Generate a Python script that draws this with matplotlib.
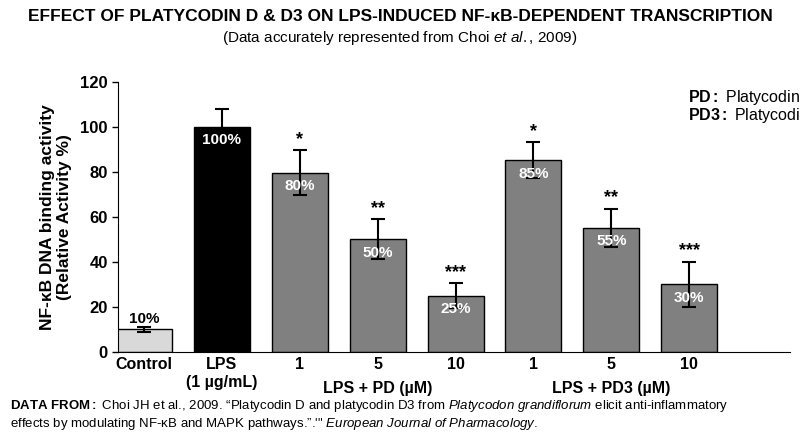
import matplotlib.pyplot as plt

plt.rcParams["font.family"] = ["Liberation Sans", "DejaVu Sans"]
plt.rcParams["mathtext.fontset"] = "custom"
plt.rcParams["mathtext.rm"] = "Liberation Sans"
plt.rcParams["mathtext.bf"] = "Liberation Sans:bold"
plt.rcParams["mathtext.it"] = "Liberation Sans:italic"

categories = ["Control", "LPS\n(1 µg/mL)", "1", "5", "10", "1", "5", "10"]
values = [10, 100, 79.5, 50, 25, 85, 55, 30]
errors = [1.2, 8, 10, 9, 5.5, 8, 8.5, 10]
value_labels = ["10%", "100%", "80%", "50%", "25%", "85%", "55%", "30%"]
stars = ["", "", "*", "**", "***", "*", "**", "***"]
colors = ["#d9d9d9", "#000000"] + ["#808080"] * 6

fig = plt.figure(figsize=(8, 4.36), dpi=100)
ax = fig.add_axes([0.148, 0.193, 0.84, 0.62])
x = list(range(len(values)))
ax.bar(x, values, width=0.72, color=colors, edgecolor="black", linewidth=1,
       yerr=errors, error_kw=dict(ecolor="black", elinewidth=1.5, capsize=5, capthick=1.5))

for i, (v, e, lab, s) in enumerate(zip(values, errors, value_labels, stars)):
    if i == 0:
        ax.text(i, v + 1.5, lab, ha="center", va="bottom", fontsize=11, fontweight="bold")
    else:
        ax.text(i, v - 6, lab, ha="center", va="center", fontsize=11,
                fontweight="bold", color="white")
    if s:
        ax.text(i, v + e + 1, s, ha="center", va="bottom", fontsize=13, fontweight="bold")

ax.set_xlim(-0.33, 8.3)
ax.set_ylim(0, 120)
ax.set_yticks(range(0, 121, 20))
ax.tick_params(axis="y", labelsize=12, width=1, length=4)
for t in ax.get_yticklabels():
    t.set_fontweight("bold")
ax.set_xticks(x)
ax.set_xticklabels(categories, fontsize=11.5, fontweight="bold")
ax.tick_params(axis="x", length=0, pad=4)
for side in ["top", "right"]:
    ax.spines[side].set_visible(False)
ax.set_ylabel("NF-κB DNA binding activity\n(Relative Activity %)", fontsize=12.5,
              fontweight="bold", labelpad=6)

ax.text(3, -13, "LPS + PD (µM)", ha="center", va="top", fontsize=11.5, fontweight="bold")
ax.text(6, -13, "LPS + PD3 (µM)", ha="center", va="top", fontsize=11.5, fontweight="bold")

ax.text(6.98, 113, r"$\bf{PD:}$ Platycodin D", fontsize=11.5, va="center")
ax.text(6.98, 105, r"$\bf{PD3:}$ Platycodin D3", fontsize=11.5, va="center")

fig.text(0.5, 0.962, "EFFECT OF PLATYCODIN D & D3 ON LPS-INDUCED NF-κB-DEPENDENT TRANSCRIPTION",
         ha="center", va="center", fontsize=12.5, fontweight="bold")
fig.text(0.5, 0.912, "(Data accurately represented from Choi $\\it{et\\ al.}$, 2009)",
         ha="center", va="center", fontsize=11)
fig.text(0.012, 0.068, r"$\bf{DATA\ FROM:}$ Choi JH et al., 2009. “Platycodin D and platycodin D3 from "
         r"$\it{Platycodon\ grandiflorum}$ elicit anti-inflammatory", fontsize=9.5, va="center")
fig.text(0.012, 0.028, "effects by modulating NF-κB and MAPK pathways.”.'\" $\\it{European\\ Journal\\ of\\ Pharmacology.}$",
         fontsize=9.5, va="center")

fig.savefig("out.png", dpi=100)
